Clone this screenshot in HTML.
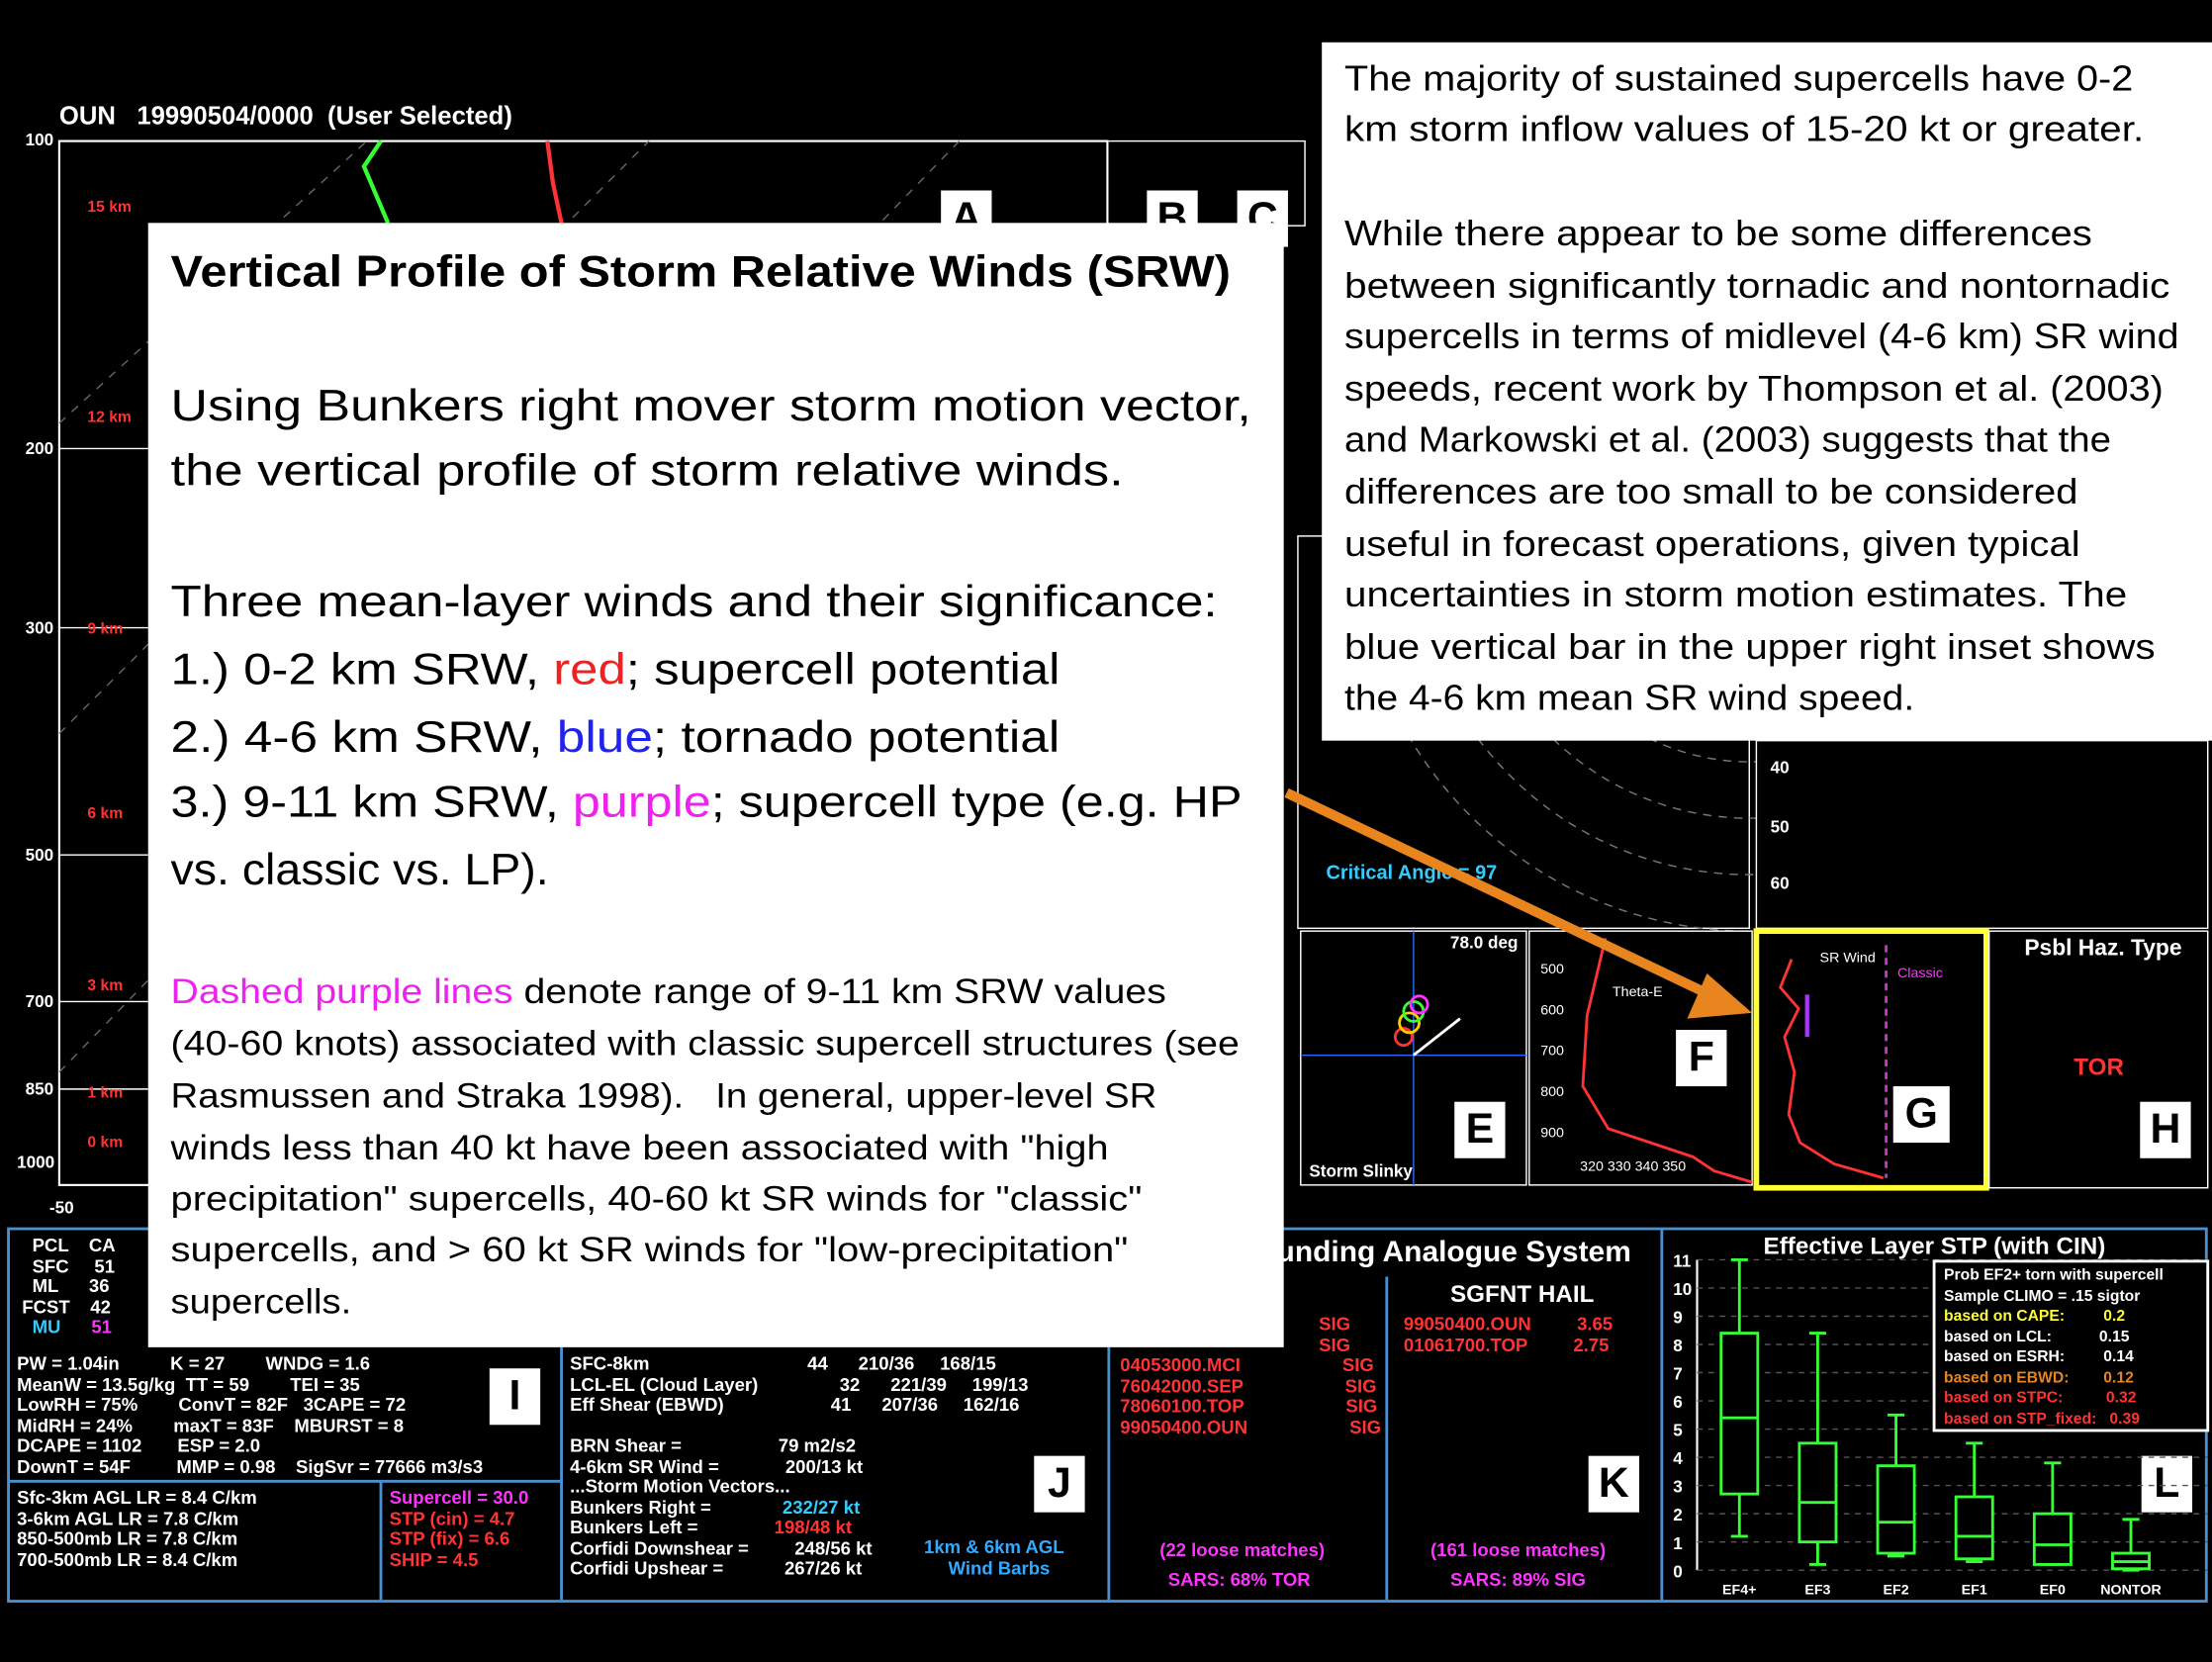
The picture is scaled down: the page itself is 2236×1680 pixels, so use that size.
<!DOCTYPE html>
<html><head><meta charset="utf-8">
<style>
html,body{margin:0;padding:0;background:#000;overflow:hidden}
#wrap{position:absolute;left:0;top:0;width:1568px;height:1178px;transform:scale(1.42602);transform-origin:0 0;background:#000;font-family:"Liberation Sans",sans-serif;color:#fff}
.abs{position:absolute}
.wb{background:#fff;color:#000;position:absolute}
.ln{position:absolute;white-space:nowrap;left:16px;transform-origin:0 50%}
.lbl{position:absolute;background:#fff;color:#000;font-weight:bold;font-size:30px;text-align:center;line-height:40px;width:36px;height:40px}
.sm{font-size:13px;font-weight:bold;line-height:14.5px;position:absolute;white-space:pre}
.pnl{position:absolute;border:2px solid #4a8fd0}
</style></head><body>
<div id="wrap">
<div class="abs" style="left:42px;top:72px;font-size:18px;font-weight:bold">OUN &nbsp; 19990504/0000 &nbsp;(User Selected)</div>
<svg class="abs" style="left:0;top:0" width="1568" height="1178">
<rect x="42" y="100" width="743" height="740" fill="none" stroke="#fff" stroke-width="1.5"/>
<g stroke="#666" stroke-dasharray="6,6"><line x1="42" y1="300" x2="260" y2="100"/><line x1="42" y1="520" x2="460" y2="100"/><line x1="42" y1="760" x2="680" y2="100"/></g>
<g stroke="#fff"><line x1="42" y1="318" x2="105" y2="318"/><line x1="42" y1="445" x2="105" y2="445"/><line x1="42" y1="606" x2="105" y2="606"/><line x1="42" y1="710" x2="105" y2="710"/><line x1="42" y1="772" x2="105" y2="772"/></g>
<polyline points="270,100 258,118 275,158" fill="none" stroke="#3f3" stroke-width="3"/>
<polyline points="388,100 392,130 398,158" fill="none" stroke="#f33" stroke-width="3"/>
<g fill="#fff" font-size="12" font-weight="bold"><text x="18" y="103">100</text><text x="18" y="322">200</text><text x="18" y="449">300</text><text x="18" y="610">500</text><text x="18" y="714">700</text><text x="18" y="776">850</text><text x="12" y="828">1000</text><text x="35" y="860">-50</text></g>
<g fill="#f33" font-size="11" font-weight="bold"><text x="62" y="150">15 km</text><text x="62" y="299">12 km</text><text x="62" y="449">9 km</text><text x="62" y="580">6 km</text><text x="62" y="702">3 km</text><text x="62" y="778">1 km</text><text x="62" y="813">0 km</text></g>
<rect x="785" y="100" width="140" height="60" fill="none" stroke="#fff"/>
<rect x="920" y="380" width="320" height="278" fill="none" stroke="#fff"/>
<g fill="none" stroke="#777" stroke-dasharray="6,5"><circle cx="1240" cy="380" r="160"/><circle cx="1240" cy="380" r="200"/><circle cx="1240" cy="380" r="240"/><circle cx="1240" cy="380" r="280"/></g>
<rect x="1245" y="525" width="320" height="133" fill="#000" stroke="#fff"/>
<g fill="#fff" font-size="12" font-weight="bold"><text x="1255" y="548">40</text><text x="1255" y="590">50</text><text x="1255" y="630">60</text></g>
<text x="940" y="623" fill="#3cf" font-size="14" font-weight="bold">Critical Angle = 97</text>
<rect x="922" y="660" width="160" height="180" fill="none" stroke="#fff"/>
<line x1="922" y1="748" x2="1082" y2="748" stroke="#36f"/><line x1="1002" y1="660" x2="1002" y2="840" stroke="#36f"/>
<g fill="none" stroke-width="2"><circle cx="995" cy="735" r="6" stroke="#f33"/><circle cx="999" cy="725" r="7" stroke="#fc0"/><circle cx="1002" cy="717" r="7" stroke="#3f3"/><circle cx="1006" cy="712" r="6" stroke="#f3f"/></g>
<line x1="1002" y1="748" x2="1035" y2="722" stroke="#fff" stroke-width="2"/>
<text x="1028" y="672" font-size="12" font-weight="bold" fill="#fff">78.0 deg</text>
<text x="928" y="834" font-size="12" font-weight="bold" fill="#fff">Storm Slinky</text>
<rect x="1084" y="660" width="158" height="180" fill="none" stroke="#fff"/>
<polyline points="1138,665 1125,720 1122,770 1140,800 1200,820 1215,830 1242,838" fill="none" stroke="#f33" stroke-width="2"/>
<text x="1143" y="706" font-size="10" fill="#fff">Theta-E</text>
<g fill="#fff" font-size="10"><text x="1092" y="690">500</text><text x="1092" y="719">600</text><text x="1092" y="748">700</text><text x="1092" y="777">800</text><text x="1092" y="806">900</text><text x="1120" y="830">320   330   340   350</text></g>
<rect x="1245" y="660" width="163" height="182" fill="none" stroke="#ff3" stroke-width="4"/>
<polyline points="1270,680 1262,700 1275,715 1265,735 1272,760 1268,790 1276,810 1300,825 1335,835" fill="none" stroke="#f33" stroke-width="2"/>
<line x1="1337" y1="670" x2="1337" y2="835" stroke="#c3c" stroke-dasharray="5,4" stroke-width="2"/>
<line x1="1281" y1="705" x2="1281" y2="735" stroke="#a3f" stroke-width="3"/>
<text x="1290" y="682" font-size="10" fill="#fff">SR Wind</text><text x="1345" y="693" font-size="10" fill="#f3f">Classic</text>
<text x="1435" y="677" font-size="16" font-weight="bold" fill="#fff">Psbl Haz. Type</text>
<text x="1470" y="762" font-size="17" font-weight="bold" fill="#f33">TOR</text>
<rect x="1410" y="660" width="155" height="182" fill="none" stroke="#fff"/>
<line x1="912" y1="562" x2="1218" y2="708" stroke="#e8851f" stroke-width="7"/>
<polygon points="1242,718 1196,722 1210,690" fill="#e8851f"/>
</svg>
<div class="lbl" style="left:667px;top:135px">A</div>
<div class="lbl" style="left:813px;top:135px">B</div>
<div class="lbl" style="left:877px;top:135px">C</div>
<div class="lbl" style="left:1031px;top:781px">E</div>
<div class="lbl" style="left:1188px;top:730px">F</div>
<div class="lbl" style="left:1342px;top:770px;width:40px">G</div>
<div class="lbl" style="left:1517px;top:781px">H</div>

<div class="pnl" style="left:5px;top:870px;width:1556px;height:262px"></div>
<svg class="abs" style="left:0;top:0" width="1568" height="1178">
<g stroke="#4a8fd0" stroke-width="2"><line x1="398" y1="955" x2="398" y2="1134"/><line x1="786" y1="955" x2="786" y2="1134"/><line x1="983" y1="905" x2="983" y2="1134"/><line x1="1178" y1="872" x2="1178" y2="1134"/><line x1="7" y1="1050" x2="398" y2="1050"/><line x1="270" y1="1050" x2="270" y2="1134"/></g>
</svg>
<div class="sm" style="left:12px;top:960px">PW = 1.04in          K = 27        WNDG = 1.6
MeanW = 13.5g/kg  TT = 59        TEI = 35
LowRH = 75%        ConvT = 82F   3CAPE = 72
MidRH = 24%        maxT = 83F    MBURST = 8
DCAPE = 1102       ESP = 2.0
DownT = 54F         MMP = 0.98    SigSvr = 77666 m3/s3</div>
<div class="sm" style="left:12px;top:1055px">Sfc-3km AGL LR = 8.4 C/km
3-6km AGL LR = 7.8 C/km
850-500mb LR = 7.8 C/km
700-500mb LR = 8.4 C/km</div>
<div class="sm" style="left:276px;top:1055px;color:#f33"><span style="color:#f3f">Supercell = 30.0</span>
STP (cin) = 4.7
STP (fix) = 6.6
SHIP = 4.5</div>
<div class="sm" style="left:404px;top:960px">SFC-8km                               44      210/36     168/15
LCL-EL (Cloud Layer)                32      221/39     199/13
Eff Shear (EBWD)                     41      207/36     162/16

BRN Shear =                   79 m2/s2
4-6km SR Wind =             200/13 kt
...Storm Motion Vectors...
Bunkers Right =              <span style="color:#3cf">232/27 kt</span>
Bunkers Left =               <span style="color:#f33">198/48 kt</span>
Corfidi Downshear =         248/56 kt
Corfidi Upshear =            267/26 kt</div>
<div class="sm" style="left:655px;top:1090px;color:#3af;text-align:center">1km &amp; 6km AGL
  Wind Barbs</div>
<div class="sm" style="left:794px;top:932px;color:#f33">                                       SIG
                                       SIG
04053000.MCI                    SIG
76042000.SEP                    SIG
78060100.TOP                    SIG
99050400.OUN                    SIG</div>
<div class="abs" style="left:905px;top:876px;font-size:21px;font-weight:bold">unding Analogue System</div>
<div class="abs" style="left:1028px;top:908px;font-size:17px;font-weight:bold">SGFNT HAIL</div>
<div class="sm" style="left:995px;top:932px;color:#f33">99050400.OUN         3.65
01061700.TOP         2.75</div>
<div class="sm" style="left:822px;top:1092px;color:#f3f">(22 loose matches)</div>
<div class="sm" style="left:828px;top:1113px;color:#f3f">SARS: 68% TOR</div>
<div class="sm" style="left:1014px;top:1092px;color:#f3f">(161 loose matches)</div>
<div class="sm" style="left:1028px;top:1113px;color:#f3f">SARS: 89% SIG</div>
<div class="lbl" style="left:347px;top:970px">I</div>
<div class="lbl" style="left:733px;top:1032px">J</div>
<div class="lbl" style="left:1126px;top:1032px">K</div>
<div class="lbl" style="left:1518px;top:1032px">L</div>
<div class="sm" style="left:12px;top:876px">   PCL    CA
   SFC     51
   ML      36
 FCST    42
   <span style="color:#3cf">MU</span>      <span style="color:#f3f">51</span></div>

<div class="abs" style="left:1250px;top:874px;font-size:17px;font-weight:bold">Effective Layer STP (with CIN)</div>
<svg id="box" class="abs" style="left:0;top:0" width="1568" height="1178"></svg>
<div class="abs" style="left:1370px;top:893px;width:192px;height:118px;border:2px solid #fff;background:#000">
<div class="sm" style="left:6px;top:2px;font-size:11px;line-height:14.5px">Prob EF2+ torn with supercell
Sample CLIMO = .15 sigtor
<span style="color:#ff3">based on CAPE:         0.2</span>
based on LCL:           0.15
based on ESRH:         0.14
<span style="color:#e8851f">based on EBWD:        0.12</span>
<span style="color:#f33">based on STPC:          0.32
based on STP_fixed:   0.39</span></div></div>

<div class="wb" style="left:105px;top:158px;width:805px;height:797px">
<div class="ln" data-w="751" style="top:17px;font-size:31px;font-weight:bold">Vertical Profile of Storm Relative Winds (SRW)</div>
<div style="font-size:31px">
<div class="ln" data-w="766" style="top:112px">Using Bunkers right mover storm motion vector,</div>
<div class="ln" data-w="676" style="top:158px">the vertical profile of storm relative winds.</div>
<div class="ln" data-w="742" style="top:251px">Three mean-layer winds and their significance:</div>
<div class="ln" data-w="630" style="top:299px">1.) 0-2 km SRW, <span style="color:#e22">red</span>; supercell potential</div>
<div class="ln" data-w="630" style="top:347px">2.) 4-6 km SRW, <span style="color:#22e">blue</span>; tornado potential</div>
<div class="ln" data-w="759" style="top:393px">3.) 9-11 km SRW, <span style="color:#e2e">purple</span>; supercell type (e.g. HP</div>
<div class="ln" data-w="268" style="top:441px">vs. classic vs. LP).</div>
</div>
<div style="font-size:24.5px">
<div class="ln" data-w="706" style="top:532px"><span style="color:#e2e">Dashed purple lines</span> denote range of 9-11 km SRW values</div>
<div class="ln" data-w="758" style="top:569px">(40-60 knots) associated with classic supercell structures (see</div>
<div class="ln" data-w="699" style="top:606px">Rasmussen and Straka 1998).&nbsp;&nbsp; In general, upper-level SR</div>
<div class="ln" data-w="665" style="top:643px">winds less than 40 kt have been associated with "high</div>
<div class="ln" data-w="688" style="top:679px">precipitation" supercells, 40-60 kt SR winds for "classic"</div>
<div class="ln" data-w="679" style="top:715px">supercells, and &gt; 60 kt SR winds for "low-precipitation"</div>
<div class="ln" data-w="128" style="top:752px">supercells.</div>
</div>
</div>
<div class="wb" style="left:937px;top:30px;width:631px;height:495px;font-size:25.5px">
<div class="ln" data-w="559" style="top:12px">The majority of sustained supercells have 0-2</div>
<div class="ln" data-w="567" style="top:48px">km storm inflow values of 15-20 kt or greater.</div>
<div class="ln" data-w="530" style="top:122px">While there appear to be some differences</div>
<div class="ln" data-w="585" style="top:159px">between significantly tornadic and nontornadic</div>
<div class="ln" data-w="592" style="top:195px">supercells in terms of midlevel (4-6 km) SR wind</div>
<div class="ln" data-w="580" style="top:232px">speeds, recent work by Thompson et al. (2003)</div>
<div class="ln" data-w="544" style="top:268px">and Markowski et al. (2003) suggests that the</div>
<div class="ln" data-w="520" style="top:305px">differences are too small to be considered</div>
<div class="ln" data-w="521" style="top:342px">useful in forecast operations, given typical</div>
<div class="ln" data-w="555" style="top:378px">uncertainties in storm motion estimates. The</div>
<div class="ln" data-w="575" style="top:415px">blue vertical bar in the upper right inset shows</div>
<div class="ln" data-w="404" style="top:451px">the 4-6 km mean SR wind speed.</div>
</div>
</div>
<script>
const categories=["EF4+","EF3","EF2","EF1","EF0","NONTOR"];
const whiskerLow=[1.2,0.2,0.5,0.3,0.2,0.0];
const boxLow=[2.7,1.0,0.6,0.4,0.2,0.05];
const medians=[5.4,2.4,1.7,1.2,0.9,0.3];
const boxHigh=[8.4,4.5,3.7,2.6,2.0,0.6];
const whiskerHigh=[11,8.4,5.5,4.5,3.8,1.8];
const yTicks=[0,1,2,3,4,5,6,7,8,9,10,11];
document.querySelectorAll('.ln[data-w]').forEach(el=>{const w=el.offsetWidth;const t=+el.getAttribute('data-w');if(w>0)el.style.transform='scaleX('+(t/w)+')';});
(function(){
const svg=document.getElementById('box');const NS='http://www.w3.org/2000/svg';
const y=v=>1113-v*20;const x=i=>1233+i*55.5;
function mk(t,a){const e=document.createElementNS(NS,t);for(const k in a)e.setAttribute(k,a[k]);svg.appendChild(e);return e;}
const ax=mk('line',{x1:1203,y1:y(0),x2:1203,y2:y(11),stroke:'#fff','stroke-width':1.5});


yTicks.forEach(v=>{const t=mk('text',{x:1186,y:y(v)+5,fill:'#fff','font-size':12,'font-weight':'bold'});t.textContent=v;


const g=mk('line',{x1:1203,y1:y(v),x2:1565,y2:y(v),stroke:'#555','stroke-dasharray':'4,4'});

});
categories.forEach((c,i)=>{const cx=x(i),w=26;
const wl=mk('line',{x1:cx,y1:y(whiskerLow[i]),x2:cx,y2:y(whiskerHigh[i]),stroke:'#3f3','stroke-width':2});


const b=mk('rect',{x:cx-w/2,y:y(boxHigh[i]),width:w,height:y(boxLow[i])-y(boxHigh[i]),fill:'#000',stroke:'#3f3','stroke-width':2});


const m=mk('line',{x1:cx-w/2,y1:y(medians[i]),x2:cx+w/2,y2:y(medians[i]),stroke:'#3f3','stroke-width':2});


[whiskerLow[i],whiskerHigh[i]].forEach(v=>{const cap=mk('line',{x1:cx-6,y1:y(v),x2:cx+6,y2:y(v),stroke:'#3f3','stroke-width':2});

});
const t=mk('text',{x:cx,y:1130,fill:'#fff','font-size':10,'font-weight':'bold','text-anchor':'middle'});t.textContent=c;

});
})();
</script>
</body></html>
